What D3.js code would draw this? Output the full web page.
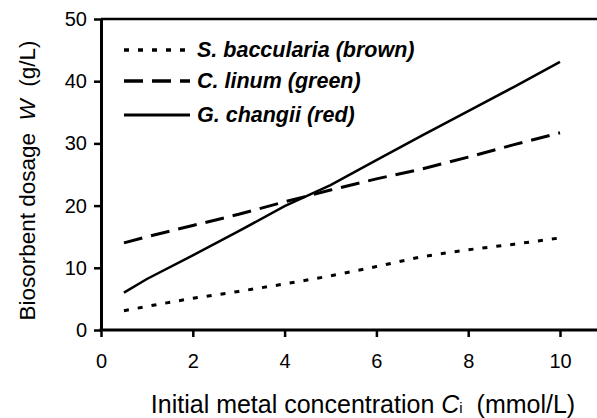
<!DOCTYPE html>
<html>
<head>
<meta charset="utf-8">
<script src="https://cdn.jsdelivr.net/npm/d3@7"></script>
<style>
  body { margin: 0; background: #fff; }
  text { font-family: "Liberation Sans", Arial, sans-serif; fill: #000; white-space: pre; }
</style>
</head>
<body>
<div id="chart"></div>
<script>
// concentration values (mmol/L)
let conc = [0.5, 1, 2, 3, 4, 5, 6, 7, 8, 9, 10]
// biosorbent dosage (g/L)
let brown = [3.1, 3.8, 5.1, 6.2, 7.4, 8.7, 10.2, 11.8, 12.9, 13.8, 14.8]
let green = [14.0, 15.0, 16.8, 18.6, 20.6, 22.5, 24.3, 25.9, 27.8, 29.8, 31.7]
let red = [6.0, 8.2, 12.0, 15.9, 19.9, 23.3, 27.3, 31.3, 35.2, 39.1, 43.1]
let seriesNames = ["S. baccularia (brown)", "C. linum (green)", "G. changii (red)"]
let xTicks = [0, 2, 4, 6, 8, 10]
let yTicks = [0, 10, 20, 30, 40, 50]

let width = 597, height = 418
let margin = { top: 19, right: 0, bottom: 88, left: 101 }

let series = [
  { name: seriesNames[0], values: brown, dash: "5,9", sw: 3 },
  { name: seriesNames[1], values: green, dash: "19,9", sw: 3 },
  { name: seriesNames[2], values: red, dash: null, sw: 2.5 }
]

let x = d3.scaleLinear().domain([0, 10]).range([margin.left, 560])
let y = d3.scaleLinear().domain([0, 50]).range([height - margin.bottom, margin.top])

let svg = d3.select('#chart').append('svg')
  .attr('width', width)
  .attr('height', height)

// top frame line
svg.append('line')
  .attr('x1', margin.left).attr('x2', width)
  .attr('y1', y(50)).attr('y2', y(50))
  .attr('stroke', '#000').attr('stroke-width', 2.5)

// x axis
let gx = svg.append('g')
  .attr('transform', `translate(0,${y(0)})`)
  .call(d3.axisBottom(x).tickValues(xTicks).tickSize(7).tickSizeOuter(0).tickPadding(17))
gx.select('.domain').attr('d', `M${margin.left - 1.5},0H${width}`).attr('stroke-width', 3)
gx.selectAll('.tick line').attr('stroke-width', 2.5)
gx.selectAll('text').attr('font-size', '20px').attr('font-family', '"Liberation Sans", Arial, sans-serif')

// y axis
let gy = svg.append('g')
  .attr('transform', `translate(${margin.left},0)`)
  .call(d3.axisLeft(y).tickValues(yTicks).tickSize(7).tickSizeOuter(0).tickPadding(7))
gy.select('.domain').attr('stroke-width', 3)
gy.selectAll('.tick line').attr('stroke-width', 2.5)
gy.selectAll('text').attr('font-size', '20px').attr('font-family', '"Liberation Sans", Arial, sans-serif')

// lines
let line = d3.line()
  .x((d, i) => x(conc[i]))
  .y(d => y(d))

svg.selectAll('.series')
  .data(series)
  .join('path')
  .attr('class', 'series')
  .attr('d', d => line(d.values))
  .attr('fill', 'none')
  .attr('stroke', '#000')
  .attr('stroke-width', d => d.sw)
  .attr('stroke-dasharray', d => d.dash)

// legend
let legend = svg.selectAll('.legend')
  .data(series)
  .join('g')
  .attr('class', 'legend')
  .attr('transform', (d, i) => `translate(124,${[50, 81, 115][i]})`)

legend.append('line')
  .attr('x1', 0).attr('x2', 66)
  .attr('stroke', '#000')
  .attr('stroke-width', d => d.sw + 0.5)
  .attr('stroke-dasharray', d => d.dash)

legend.append('text')
  .attr('x', 73).attr('y', 7)
  .attr('font-size', '21.5px')
  .attr('font-weight', 'bold')
  .attr('font-style', 'italic')
  .text(d => d.name)

// y title
let yt = svg.append('text')
  .attr('transform', `translate(35,${(y(0) + y(50)) / 2 + 6}) rotate(-90)`)
  .attr('text-anchor', 'middle')
  .attr('font-size', '22.5px')
yt.append('tspan').text('Biosorbent dosage  ')
yt.append('tspan').attr('font-style', 'italic').text('W')
yt.append('tspan').text('  (g/L)')

// x title
let xt = svg.append('text')
  .attr('x', 363).attr('y', 413)
  .attr('text-anchor', 'middle')
  .attr('font-size', '25px')
xt.append('tspan').text('Initial metal concentration ')
xt.append('tspan').attr('font-style', 'italic').text('C')
xt.append('tspan').attr('font-size', '15px').text('i')
xt.append('tspan').text('  (mmol/L)')
</script>
</body>
</html>
